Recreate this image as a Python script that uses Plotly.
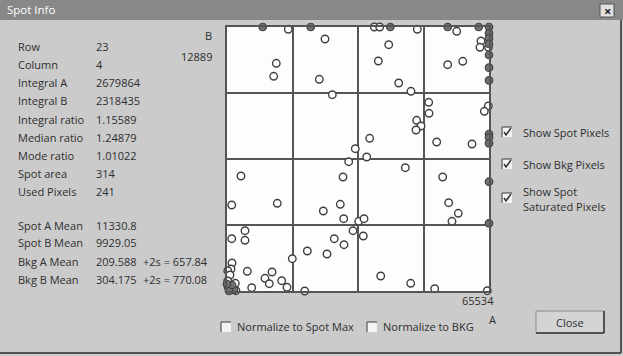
import plotly.graph_objects as go

W, H = 623, 356
L, T, R, B = 227, 27, 134, 65
PW, PH = W - L - R, H - T - B

AMAX = 65534

# Open (measured) points: intensity A vs intensity B
open_a = [15330, 12330, 11680, 3500, 1180, 12580, 4500, 1180, 4500, 20090, 16330, 1250, 1000, 200,
          5080, 11260, 750, 9500, 10580, 13680, 2080, 180, 2250, 6180, 15010, 19440,
          24510, 23090, 26340, 30440, 32090, 35690, 34940, 29020, 28340, 24090, 29190, 32940,
          34270, 31520, 34090, 26840, 29270, 25010, 38450, 36840, 38200, 40450, 37850, 42950,
          44600, 47600, 57460, 63530, 63280, 65400, 55200, 58960, 46020, 50450, 50530, 47450,
          48530, 47280, 52450, 61280, 65360, 64360, 53950, 55450, 57860, 56280, 45950, 51950, 65110]
open_b = [64960, 56520, 53300, 28550, 21350, 21770, 14970, 12980, 12590, 9930, 8020, 6950, 5460, 5040,
          4890, 4720, 3970, 3150, 1810, 2560, 1910, 2480, 80, 820, 920, 0,
          62550, 52550, 48730, 32100, 35320, 37900, 33260, 28300, 21520, 19860, 17950, 17300,
          17950, 14970, 13650, 12980, 11490, 9190, 3720, 65534, 65534, 61140, 57090, 51630,
          30610, 64960, 64470, 62060, 60490, 60490, 56170, 57020, 49570, 46840, 44110, 42370,
          40960, 39970, 36990, 36490, 45920, 44610, 28300, 21920, 19290, 17300, 1910, 570, 80]

# Saturated (filled) points
sat_a = [8930, 20940, 40850, 55200, 62960, 65534, 65534, 65534, 65534, 65534, 65534, 65534,
         65534, 65534, 65534, 65534, 65534, 250, 1000, 1750, 500, 1250, 0]
sat_b = [65534, 65534, 65534, 65534, 65534, 65534, 63970, 62730, 61310, 58580, 55430, 52300,
         38970, 38150, 36660, 27130, 16800, 990, 500, 250, 0, 1490, 1740]

info_labels = ["Row", "Column", "Integral A", "Integral B", "Integral ratio", "Median ratio",
               "Mode ratio", "Spot area", "Used Pixels"]
info_values = ["23", "4", "2679864", "2318435", "1.15589", "1.24879", "1.01022", "314", "241"]
mean_labels = ["Spot A Mean", "Spot B Mean", "Bkg A Mean", "Bkg B Mean"]
mean_values = ["11330.8", "9929.05", "209.588", "304.175"]
mean_extra = ["", "", "+2s = 657.84", "+2s = 770.08"]

FONT = "Open Sans"
TXT = "#2e2e2e"
FS = 11


def fx(px):
    return (px - L) / PW


def fy(py):
    return (H - B - py) / PH


fig = go.Figure()
fig.add_trace(go.Scatter(x=open_a, y=open_b, mode="markers", cliponaxis=False,
                         marker=dict(size=7.5, color="white", line=dict(color="#404040", width=1.4)),
                         showlegend=False, hoverinfo="skip"))
fig.add_trace(go.Scatter(x=sat_a, y=sat_b, mode="markers", cliponaxis=False,
                         marker=dict(size=7.5, color="#707070", line=dict(color="#404040", width=1.2)),
                         showlegend=False, hoverinfo="skip"))

shapes = []
ann = []


def rect(x0, y0, x1, y1, fill, line="rgba(0,0,0,0)", lw=0, layer="below"):
    shapes.append(dict(type="rect", xref="paper", yref="paper", x0=fx(x0), x1=fx(x1),
                       y0=fy(y1), y1=fy(y0), fillcolor=fill, line=dict(color=line, width=lw),
                       layer=layer))


def line(x0, y0, x1, y1, color, lw=1):
    shapes.append(dict(type="line", xref="paper", yref="paper", x0=fx(x0), x1=fx(x1),
                       y0=fy(y0), y1=fy(y1), line=dict(color=color, width=lw), layer="above"))


def text(px, py, s, anchor="left", size=FS, color=TXT, bold=False):
    ann.append(dict(xref="paper", yref="paper", x=fx(px), y=fy(py), text=("<b>%s</b>" % s) if bold else s,
                    showarrow=False, xanchor=anchor, yanchor="middle",
                    font=dict(family=FONT, size=size, color=color)))


def checkbox(px, py, checked):
    rect(px - 5, py - 5, px + 5, py + 5, "#f4f4f4", layer="above")
    line(px - 5, py - 5, px + 5, py - 5, "#555555", 1.2)
    line(px - 5, py - 5, px - 5, py + 5, "#555555", 1.2)
    if checked:
        shapes.append(dict(type="path", xref="paper", yref="paper",
                           path="M %f %f L %f %f L %f %f" % (fx(px - 3), fy(py), fx(px - 1), fy(py + 3),
                                                           fx(px + 4), fy(py - 4)),
                           line=dict(color="#333333", width=1.5), layer="above"))


# title bar
rect(0, 0, W, 20, "#888888")
text(5, 10, "Spot Info", size=11.5, color="white")
rect(600, 4, 614, 17, "#e0e0e0", line="#555555", lw=1, layer="above")
text(607, 10.5, "×", anchor="center", size=13, color="#222222", bold=True)
# dialog frame
line(621, 20, 621, 353, "#555555", 2)
line(0, 353, 621, 353, "#555555", 2)

# left info text
for i, (lab, val) in enumerate(zip(info_labels, info_values)):
    y = 46.7 + i * 18.08
    text(16, y, lab)
    text(94, y, val)
for i, (lab, val, ex) in enumerate(zip(mean_labels, mean_values, mean_extra)):
    y = 225 + i * 18
    text(16, y, lab)
    text(94, y, val)
    if ex:
        text(141, y, ex)

# axis labels
text(214, 36, "B", anchor="right")
text(214, 56, "12889", anchor="right")
text(496, 300, "65534", anchor="right")
text(492, 319, "A", anchor="center")

# right checkboxes
checkbox(507, 132, True)
text(521, 132, "Show Spot Pixels")
checkbox(507, 164, True)
text(521, 164, "Show Bkg Pixels")
checkbox(507, 198, True)
text(521, 191, "Show Spot")
text(521, 206, "Saturated Pixels")

# bottom checkboxes
checkbox(226, 327, False)
text(235, 327, "Normalize to Spot Max")
checkbox(372, 327, False)
text(381, 327, "Normalize to BKG")

# close button
rect(536, 311, 604, 333, "#d4d4d4", line="#8a8a8a", lw=1, layer="above")
line(536, 333, 604, 333, "#333333", 1.5)
line(604, 311, 604, 333, "#333333", 1.5)
text(570, 322, "Close", anchor="center")

axis_common = dict(range=[0, AMAX], dtick=AMAX / 4, tick0=0, showgrid=True, gridcolor="#555555",
                   gridwidth=1.5, showline=True, linecolor="#555555", linewidth=2, mirror=True,
                   zeroline=False, showticklabels=False, ticks="", fixedrange=True)

fig.update_layout(
    width=W, height=H,
    margin=dict(l=L, r=R, t=T, b=B),
    paper_bgcolor="#cbcbcb", plot_bgcolor="#fdfdfd",
    xaxis=axis_common, yaxis=axis_common,
    shapes=shapes, annotations=ann,
    showlegend=False,
)

fig.write_html("out.html")
